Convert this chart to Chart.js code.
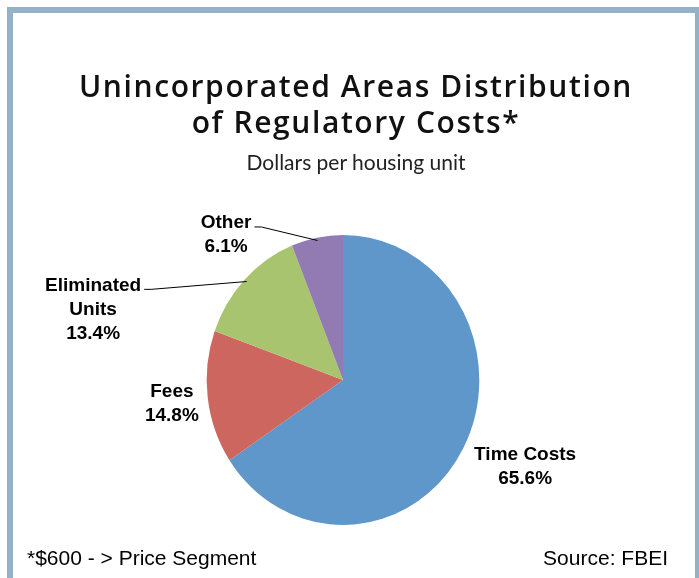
<!DOCTYPE html>
<html>
<head>
<meta charset="utf-8">
<script src="https://cdn.jsdelivr.net/npm/chart.js@4/dist/chart.umd.min.js"></script>
<style>
    body { margin: 0; background: #ffffff; }
    #wrap { position: relative; width: 699px; height: 578px; overflow: hidden; background: #ffffff; }
    #frame {
        position: absolute; left: 7px; top: 7px; width: 682px; height: 640px;
        border: 6px solid #93b2c8; border-bottom: none;
    }
    #myChart { position: absolute; left: 0; top: 0; }
    .title {
        position: absolute; left: 0; width: 712px; text-align: center;
        font-family: "Open Sans", sans-serif; font-weight: 600; color: #111;
    }
    #title { top: 68px; font-size: 30px; line-height: 36px; letter-spacing: 1.6px; }
    #subtitle { top: 149px; font-family: "Lato", sans-serif; font-weight: 400; font-size: 21px; line-height: 25px; color: #222; letter-spacing: 0; }
    .foot { position: absolute; top: 546px; font-family: "Liberation Sans", Arial, sans-serif; font-size: 21px; color: #000; }
    #footLeft { left: 27px; }
    #footRight { right: 31px; }
</style>
</head>
<body>
<div id="wrap">
    <div id="frame"></div>
    <canvas id="myChart" width="699" height="578"></canvas>
    <div class="title" id="title">Unincorporated Areas Distribution<br>of Regulatory Costs*</div>
    <div class="title" id="subtitle">Dollars per housing unit</div>
    <div class="foot" id="footLeft">*$600 - &gt; Price Segment</div>
    <div class="foot" id="footRight">Source: FBEI</div>
</div>
<script>
// Chart data
const categories = ['Time Costs', 'Fees', 'Eliminated Units', 'Other'];
const shares = [65.6, 14.8, 13.4, 6.1];
const labelLines = [['Time Costs'], ['Fees'], ['Eliminated', 'Units'], ['Other']];
const sliceColors = ['#6097ca', '#cc665e', '#a9c46f', '#927bb2'];

// The pie in the picture is a little squeezed sideways
const squeezeX = 0.94;

// Where each label sits: distance along the slice middle (x radius), then a nudge
const labelPlacement = [
    { k: 1.3, dx: 16, dy: -4, leader: false },
    { k: 1.3, dx: 16, dy: 0, leader: false },
    { k: 1.3, dx: -114, dy: 59, leader: true },
    { k: 1.3, dx: -81, dy: 39, leader: true }
];

// Plugin to squeeze the pie, then draw slice labels and leader lines
const sliceLabels = {
    id: 'sliceLabels',
    beforeDatasetsDraw(chart) {
        const ctx = chart.ctx;
        const area = chart.chartArea;
        const cx = (area.left + area.right) / 2;
        ctx.save();
        ctx.translate(cx, 0);
        ctx.scale(squeezeX, 1);
        ctx.translate(-cx, 0);
    },
    afterDatasetsDraw(chart) {
        const ctx = chart.ctx;
        ctx.restore();
        const meta = chart.getDatasetMeta(0);
        ctx.save();
        ctx.font = 'bold 19px "Liberation Sans", Arial, sans-serif';
        ctx.fillStyle = '#000000';
        ctx.textAlign = 'center';
        ctx.textBaseline = 'alphabetic';
        meta.data.forEach((arc, i) => {
            const p = arc.getProps(['x', 'y', 'startAngle', 'endAngle', 'outerRadius'], true);
            const mid = (p.startAngle + p.endAngle) / 2;
            const place = labelPlacement[i];
            const cx = p.x + Math.cos(mid) * p.outerRadius * place.k + place.dx;
            const cy = p.y + Math.sin(mid) * p.outerRadius * place.k + place.dy;
            const lines = labelLines[i].concat([shares[i].toFixed(1) + '%']);
            const lineHeight = 24;
            const firstBase = cy - (lines.length - 1) * lineHeight / 2 + 6.5;
            lines.forEach((txt, j) => {
                ctx.fillText(txt, cx, firstBase + j * lineHeight);
            });
            if (place.leader) {
                const w0 = ctx.measureText(lines[0]).width;
                const sx = cx + w0 / 2 + 3;
                const sy = firstBase - 1.5;
                const ex = p.x + Math.cos(mid) * p.outerRadius * 0.98 * squeezeX;
                const ey = p.y + Math.sin(mid) * p.outerRadius * 0.98;
                ctx.beginPath();
                ctx.strokeStyle = '#000000';
                ctx.lineWidth = 1;
                ctx.moveTo(sx, sy);
                ctx.lineTo(sx + 7, sy);
                ctx.lineTo(ex, ey);
                ctx.stroke();
            }
        });
        ctx.restore();
    }
};

const ctx = document.getElementById('myChart').getContext('2d');

const myChart = new Chart(ctx, {
    type: 'pie',
    data: {
        labels: categories,
        datasets: [{
            data: shares,
            backgroundColor: sliceColors,
            borderWidth: 0
        }]
    },
    options: {
        responsive: false,
        animation: false,
        devicePixelRatio: 1,
        layout: {
            padding: { left: 198, right: 211, top: 235, bottom: 53 }
        },
        plugins: {
            legend: { display: false },
            tooltip: { enabled: false }
        }
    },
    plugins: [sliceLabels]
});
</script>
</body>
</html>
